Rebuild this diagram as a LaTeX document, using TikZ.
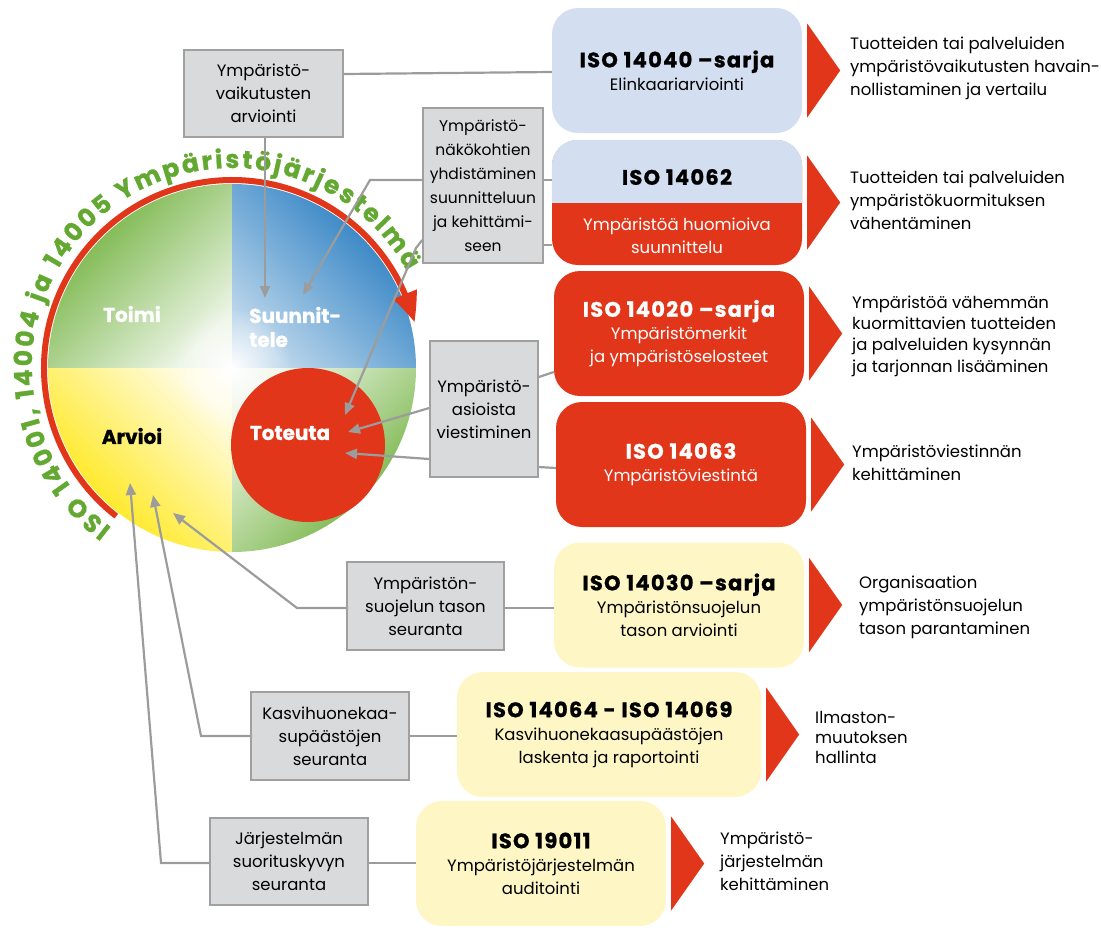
\documentclass[tikz,border=0pt]{standalone}
\usepackage{fontspec}
\setmainfont{Poppins}
\usetikzlibrary{arrows.meta,bending,decorations.text,calc,fadings}
\tikzfading[name=glowfade, inner color=transparent!0, outer color=transparent!100]
\definecolor{redc}{HTML}{E2361A}
\definecolor{lblue}{HTML}{D3DFF0}
\definecolor{ybox}{HTML}{FEF6C5}
\definecolor{gfill}{HTML}{D9DADC}
\definecolor{gline}{HTML}{A0A0A0}
\definecolor{conncol}{HTML}{9C9C9C}
\definecolor{tgreen}{HTML}{63A830}
\definecolor{qgreen}{HTML}{6AAE35}
\definecolor{qblue}{HTML}{1E77BE}
\definecolor{qyellow}{HTML}{FFE500}
\newcommand\bodyf{\fontsize{16.5}{23}\selectfont}
\newcommand\headf{\fontsize{21}{24}\selectfont\bfseries\addfontfeatures{LetterSpace=6,FakeBold=1}}
\newcommand\circf{\fontsize{25}{25}\selectfont\bfseries\addfontfeatures{FakeBold=1}}
\newcommand\labf{\fontsize{20}{24}\selectfont\bfseries\addfontfeatures{FakeBold=1}}
\begin{document}
\begin{tikzpicture}[x=1pt,y=1pt,
  gbox/.style={draw=gline, fill=gfill, line width=1.5pt, align=center, inner sep=0pt, font=\bodyf},
  isobox/.style={rounded corners=26pt, align=center, inner sep=0pt, font=\bodyf, minimum width=250pt, minimum height=125pt},
  rtext/.style={anchor=west, align=left, inner sep=0pt, font=\bodyf},
  conn/.style={draw=conncol, line width=2.2pt},
  arr/.style={conn, -{Triangle[length=12pt,width=10pt]}},
  lab/.style={font=\labf, inner sep=0pt},
  tri/.pic={\fill[redc] (5,47) -- (38,0) -- (5,-47) -- cycle;}
]
\useasboundingbox (0,0) rectangle (1101,-938);
\coordinate (C) at (232,-368);
% quadrants
\shade[top color=qgreen, middle color=qgreen!55, bottom color=qgreen!12, shading angle=45]
  (C) -- ++(-184,0) arc[start angle=180,end angle=90,radius=184] -- cycle;
\shade[top color=qblue, middle color=qblue!68, bottom color=qblue!30, shading angle=-45]
  (C) -- ++(0,184) arc[start angle=90,end angle=0,radius=184] -- cycle;
\shade[top color=qyellow, middle color=qyellow!55, bottom color=qyellow!12, shading angle=135]
  (C) -- ++(-184,0) arc[start angle=180,end angle=270,radius=184] -- cycle;
\shade[top color=qgreen, middle color=qgreen!55, bottom color=qgreen!12, shading angle=-135]
  (C) -- ++(184,0) arc[start angle=0,end angle=-90,radius=184] -- cycle;
\fill[white, path fading=glowfade] (C) circle (60pt);
% red inner circle
\node[circle, fill=redc, minimum size=154pt, inner sep=0pt] (Tot) at (308,-445) {};
% labels
\node[lab, text=white] (Ltoimi) at (132,-314) {Toimi};
\node[lab, text=white, anchor=west, align=left] (Lsuun) at (249,-327) {Suunnit-\\tele};
\node[lab, text=black] (Larv) at (132,-436) {Arvioi};
\node[lab, text=white] (Ltot) at (290,-433) {Toteuta};
% red arc arrow
\draw[redc, line width=6pt, -{Triangle[length=30pt,width=24pt,bend]}]
  ($(C)+(232:188)$) arc[start angle=232,end angle=14,radius=188];
% curved text
\path[decorate, decoration={text along path,
   text={|\circf\color{tgreen}|ISO 14001, 14004 ja 14005 Ympäristöjärjestelmä},
   text align={fit to path}}]
  ($(C)+(233:200)$) arc[start angle=233,end angle=29,radius=200];
% gray boxes
\node[gbox, minimum width=159pt, minimum height=87pt] (G1) at (263.5,-93.5) {Ympäristö-\\vaikutusten\\arviointi};
\node[gbox, minimum width=120pt, minimum height=155pt, font=\fontsize{15.5}{24}\selectfont] (G2) at (483,-185.5) {Ympäristö-\\näkökohtien\\yhdistäminen\\suunnitteluun\\ja kehittämi-\\seen};
\node[gbox, minimum width=108pt, minimum height=136pt] (G3) at (484,-409) {Ympäristö-\\asioista\\viestiminen};
\node[gbox, minimum width=157pt, minimum height=88pt] (G4) at (425.5,-606) {Ympäristön-\\suojelun tason\\seuranta};
\node[gbox, minimum width=158pt, minimum height=88pt] (G5) at (330,-736) {Kasvihuonekaa-\\supäästöjen\\seuranta};
\node[gbox, minimum width=158pt, minimum height=87pt] (G6) at (289,-861.5) {Järjestelmän\\suorituskyvyn\\seuranta};
% ISO boxes
\node[isobox, fill=lblue] (B1) at (677,-70.5) {{\headf ISO 14040 –sarja}\\Elinkaariarviointi};
\node[isobox, fill=redc] (B2) at (677,-202.5) {};
\begin{scope}
  \clip ($(B2.north west)+(-3,3)$) rectangle ($(B2.east)+(3,0)$);
  \fill[lblue, rounded corners=26pt] (B2.south west) rectangle (B2.north east);
\end{scope}
\node[font=\headf, inner sep=0pt] (B2h) at (677,-177) {ISO 14062};
\node[font=\bodyf, text=white, align=center, inner sep=0pt] (B2s) at (677,-236) {Ympäristöä huomioiva\\suunnittelu};
\node[isobox, fill=redc, text=white] (B3) at (679,-333.5) {{\headf ISO 14020 –sarja}\\Ympäristömerkit\\ja ympäristöselosteet};
\node[isobox, fill=redc, text=white] (B4) at (681,-464.5) {{\headf ISO 14063}\\Ympäristöviestintä};
\node[isobox, fill=ybox] (B5) at (679,-605) {{\headf ISO 14030 –sarja}\\Ympäristönsuojelun\\tason arviointi};
\node[isobox, fill=ybox, minimum width=304pt] (B6) at (609,-734.5) {{\headf ISO 14064 - ISO 14069}\\Kasvihuonekaasupäästöjen\\laskenta ja raportointi};
\node[isobox, fill=ybox] (B7) at (541,-863.5) {{\headf ISO 19011}\\Ympäristöjärjestelmän\\auditointi};
% triangles
\pic at (B1.east) {tri};
\pic at (B2.east) {tri};
\pic at (B3.east) {tri};
\pic at (B4.east) {tri};
\pic at (B5.east) {tri};
\pic at (B6.east) {tri};
\pic at (B7.east) {tri};
% right texts
\node[rtext] (R1) at (850,-68.5) {Tuotteiden tai palveluiden\\ympäristövaikutusten havain-\\nollistaminen ja vertailu};
\node[rtext] (R2) at (850,-200.5) {Tuotteiden tai palveluiden\\ympäristökuormituksen\\vähentäminen};
\node[rtext, font=\fontsize{16.5}{21.3}\selectfont] (R3) at (852,-336) {Ympäristöä vähemmän\\kuormittavien tuotteiden\\ja palveluiden kysynnän\\ja tarjonnan lisääminen};
\node[rtext] (R4) at (852,-463) {Ympäristöviestinnän\\kehittäminen};
\node[rtext] (R5) at (859,-607) {Organisaation\\ympäristönsuojelun\\tason parantaminen};
\node[rtext, font=\fontsize{16.5}{20}\selectfont] (R6) at (815,-737) {Ilmaston-\\muutoksen\\hallinta};
\node[rtext] (R7) at (720,-861.5) {Ympäristö-\\järjestelmän\\kehittäminen};
% arrow tips
\coordinate (a1) at (265,-298);
\coordinate (a2) at (303,-295);
\coordinate (a3) at (345,-415);
\coordinate (a4) at (348,-432);
\coordinate (a5) at (345,-453);
\coordinate (a6) at (173,-513);
\coordinate (a7) at (153,-495);
\coordinate (a8) at (130,-483);
% connectors
\draw[conn] (G1.east |- 0,-74) -- (B1.west |- 0,-72);
\draw[arr] (G1.south -| 265,0) -- (a1);
\draw[arr] (G2.west |- 0,-180) -- (370,-180) -- (a2);
\draw[conn] (G2.east |- 0,-180) -- (B2.west |- 0,-180);
\draw[conn] (G2.east |- 0,-245) -- (B2.west |- 0,-245);
\draw[arr] (G2.west |- 0,-240) -- (416,-248) -- (a3);
\draw[arr] (G3.west |- 0,-408) -- (a4);
\draw[arr] (G3.west |- 0,-459) -- (a5);
\draw[conn] (G3.east |- 0,-377) -- (B3.west |- 0,-372);
\draw[conn] (G3.east |- 0,-467) -- (B4.west |- 0,-468);
\draw[arr] (G4.west |- 0,-608) -- (297,-608) -- (a6);
\draw[conn] (G4.east |- 0,-608) -- (B5.west |- 0,-608);
\draw[arr] (G5.west |- 0,-736) -- (201,-736) -- (a7);
\draw[conn] (G5.east |- 0,-736) -- (B6.west |- 0,-736);
\draw[arr] (G6.west |- 0,-863) -- (161,-863) -- (a8);
\draw[conn] (G6.east |- 0,-863) -- (B7.west |- 0,-863);
\end{tikzpicture}
\end{document}
